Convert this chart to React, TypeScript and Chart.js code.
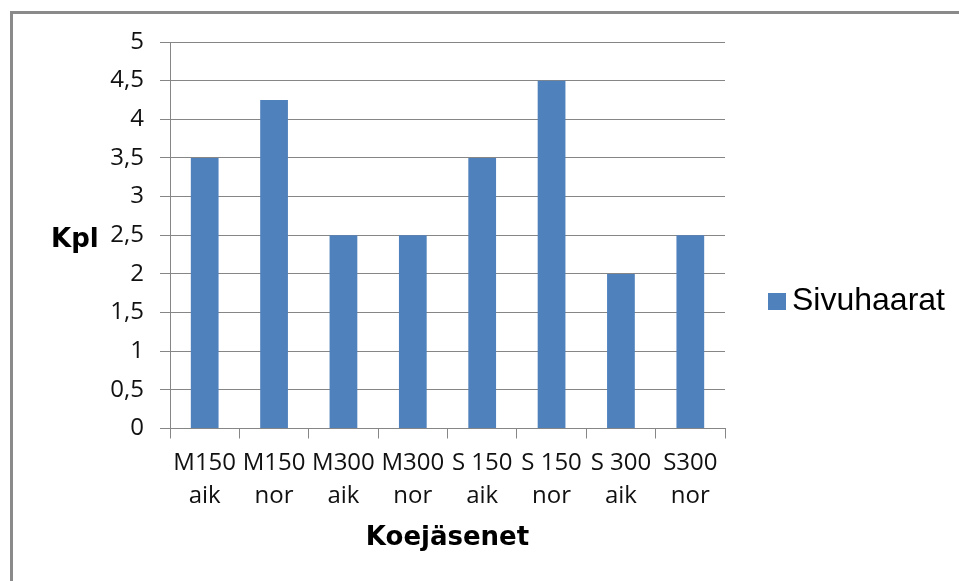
import React, { useEffect, useRef } from "react";
import { Chart, registerables } from "chart.js";

Chart.register(...registerables);

const categories: string[][] = [
  ["M150", "aik"],
  ["M150", "nor"],
  ["M300", "aik"],
  ["M300", "nor"],
  ["S 150", "aik"],
  ["S 150", "nor"],
  ["S 300", "aik"],
  ["S300", "nor"],
];
const seriesName = "Sivuhaarat";
const values: number[] = [3.5, 4.25, 2.5, 2.5, 3.5, 4.5, 2, 2.5];
const yTitle = "Kpl";
const xTitle = "Koejäsenet";
const yMin = 0;
const yMax = 5;
const yStep = 0.5;

const BAR = "#4F81BD";
const GRID = "#868686";

const decorPlugin = {
  id: "decor",
  beforeDraw(chart: any) {
    const ctx = chart.ctx;
    ctx.save();
    ctx.fillStyle = "#ffffff";
    ctx.fillRect(0, 0, chart.width, chart.height);
    ctx.strokeStyle = "#8a8a8a";
    ctx.lineWidth = 3;
    ctx.strokeRect(11.5, 12.5, 1100, 1100);
    ctx.restore();
  },
  afterDraw(chart: any) {
    const ctx = chart.ctx;
    const area = chart.chartArea;
    ctx.save();
    ctx.fillStyle = "#000000";
    ctx.font = "bold 26px 'DejaVu Sans'";
    ctx.textBaseline = "alphabetic";
    ctx.textAlign = "left";
    ctx.fillText(yTitle, 51, 247);
    ctx.textAlign = "center";
    ctx.fillText(xTitle, (area.left + area.right) / 2, 545);
    // legend
    const ds = chart.data.datasets[0];
    ctx.fillStyle = ds.backgroundColor;
    ctx.fillRect(768, 293, 18, 17);
    ctx.fillStyle = "#000000";
    ctx.font = "32px 'Liberation Sans'";
    ctx.textAlign = "left";
    ctx.fillText(ds.label, 792, 310);
    ctx.restore();
  },
};

export default function App() {
  const ref = useRef<HTMLCanvasElement>(null);
  useEffect(() => {
    if (!ref.current) return;
    const chart = new Chart(ref.current, {
      type: "bar",
      data: {
        labels: categories,
        datasets: [
          {
            label: seriesName,
            data: values,
            backgroundColor: BAR,
            borderWidth: 0,
            barPercentage: 0.4,
            categoryPercentage: 1,
          },
        ],
      },
      options: {
        responsive: false,
        animation: false,
        layout: { padding: { top: 42, right: 234, bottom: 0, left: 0 } },
        plugins: {
          legend: { display: false },
          tooltip: { enabled: false },
        },
        scales: {
          x: {
            grid: {
              drawOnChartArea: false,
              drawTicks: true,
              tickLength: 10,
              color: GRID,
              offset: true,
            },
            border: { color: GRID, width: 1 },
            ticks: {
              color: "#111111",
              font: { family: "'Open Sans'", size: 24, lineHeight: 1.375 },
              padding: 8,
              maxRotation: 0,
              minRotation: 0,
              autoSkip: false,
            },
            afterFit(scale: any) {
              scale.height = 152.5;
            },
          },
          y: {
            min: yMin,
            max: yMax,
            grid: { color: GRID, tickLength: 10, lineWidth: 1 },
            border: { color: GRID, width: 1 },
            ticks: {
              stepSize: yStep,
              color: "#111111",
              font: { family: "'Open Sans'", size: 24 },
              padding: 16,
              callback: (v: any) => String(v).replace(".", ","),
            },
            afterFit(scale: any) {
              scale.width = 170;
            },
          },
        },
      },
      plugins: [decorPlugin],
    });
    return () => chart.destroy();
  }, []);
  return (
    <canvas
      ref={ref}
      width={959}
      height={581}
      style={{ position: "absolute", left: 0, top: 0, display: "block" }}
    />
  );
}
